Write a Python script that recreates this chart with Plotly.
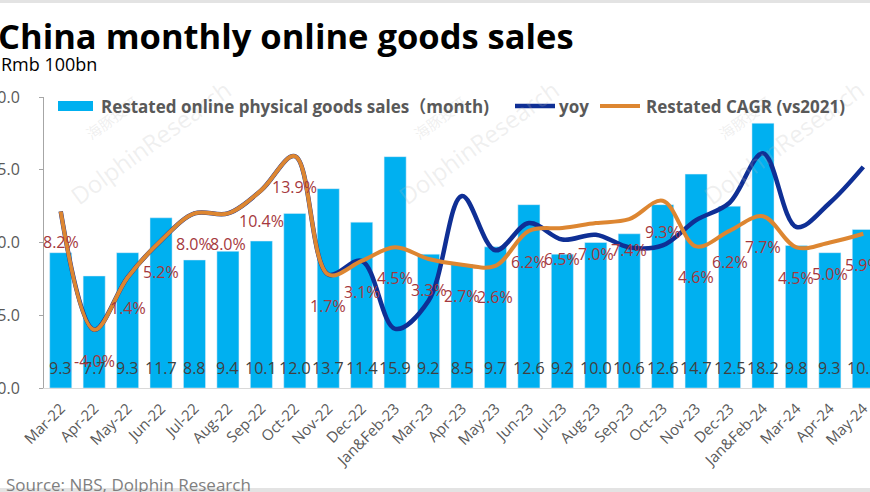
import plotly.graph_objects as go

categories = ["Mar-22", "Apr-22", "May-22", "Jun-22", "Jul-22", "Aug-22", "Sep-22", "Oct-22",
              "Nov-22", "Dec-22", "Jan&Feb-23", "Mar-23", "Apr-23", "May-23", "Jun-23", "Jul-23",
              "Aug-23", "Sep-23", "Oct-23", "Nov-23", "Dec-23", "Jan&Feb-24", "Mar-24", "Apr-24", "May-24"]

sales = [9.3, 7.7, 9.3, 11.7, 8.8, 9.4, 10.1, 12.0, 13.7, 11.4, 15.9, 9.2, 8.5, 9.7, 12.6, 9.2,
         10.0, 10.6, 12.6, 14.7, 12.5, 18.2, 9.8, 9.3, 10.9]

yoy = [8.2, -4.0, 1.4, 5.2, 8.0, 8.0, 10.4, 13.9, 1.7, 3.1, -3.9, -1.0, 9.8, 4.2, 7.0, 5.3,
       5.8, 4.5, 4.7, 7.3, 9.1, 14.2, 6.6, 9.1, 12.8]

cagr = [8.2, -4.0, 1.4, 5.2, 8.0, 8.0, 10.4, 13.9, 1.7, 3.1, 4.5, 3.3, 2.7, 2.6, 6.2, 6.5,
        7.0, 7.4, 9.3, 4.6, 6.2, 7.7, 4.5, 5.0, 5.9]

y_ticks = [0, 5, 10, 15, 20]

series_names = ["Restated online physical goods sales（month)", "yoy", "Restated CAGR (vs2021)"]

FONT = "Open Sans, Noto Sans CJK SC, sans-serif"
GREY = "#595959"
BAR_C = "#00B0F0"
YOY_C = "#0F2F95"
CAGR_C = "#DD8631"

fig = go.Figure()
fig.add_trace(go.Bar(x=categories, y=sales, name=series_names[0], marker_color=BAR_C, yaxis="y"))
fig.add_trace(go.Scatter(x=categories, y=yoy, name=series_names[1], mode="lines",
                         line=dict(color=YOY_C, width=4.5, shape="spline", smoothing=1.0),
                         yaxis="y2"))
fig.add_trace(go.Scatter(x=categories, y=cagr, name=series_names[2], mode="lines",
                         line=dict(color=CAGR_C, width=4, shape="spline", smoothing=1.0),
                         yaxis="y2"))

annotations = []
for c, v in zip(categories, sales):
    annotations.append(dict(x=c, y=0, xref="x", yref="y", yshift=20, text=f"{v:.1f}",
                            showarrow=False, font=dict(size=16, color="#404040", family=FONT)))
for c, v in zip(categories, cagr):
    annotations.append(dict(x=c, y=v, xref="x", yref="y2", yshift=-31, text=f"{v:.1f}%",
                            showarrow=False, font=dict(size=16, color="#A5383D", family=FONT)))

L, R, T, B = 44, 0, 97, 104
PW = 870 - L - R
PH = 492 - T - B


def px(x):
    return (x - L) / PW


def py(y):
    return (492 - B - y) / PH


# faint watermarks
for cx in (150, 478, 783):
    annotations.append(dict(xref="paper", yref="paper", x=px(cx), y=py(142), xanchor="center",
                            yanchor="middle", text="DolphinResearch", textangle=-36, showarrow=False,
                            font=dict(size=24, color="rgba(185,185,185,0.22)", family=FONT)))
    annotations.append(dict(xref="paper", yref="paper", x=px(cx - 38), y=py(118), xanchor="center",
                            yanchor="middle", text="海豚投研", textangle=-36, showarrow=False,
                            font=dict(size=15, color="rgba(185,185,185,0.22)", family=FONT)))

annotations.append(dict(xref="paper", yref="paper", x=px(-4), y=py(35), xanchor="left", yanchor="middle",
                        text="<b>China monthly online goods sales</b>", showarrow=False,
                        font=dict(size=34.5, color="#000000", family=FONT)))
annotations.append(dict(xref="paper", yref="paper", x=px(-1), y=py(64), xanchor="left", yanchor="middle",
                        text="Rmb 100bn", showarrow=False,
                        font=dict(size=18, color="#000000", family=FONT)))
annotations.append(dict(xref="paper", yref="paper", x=px(4), y=py(484), xanchor="left", yanchor="middle",
                        text="Source: NBS, Dolphin Research", showarrow=False,
                        font=dict(size=17, color="#7F7F7F", family=FONT)))

# legend (drawn manually to match the wide swatches)
LEG_Y = 106
leg_font = dict(size=17, color=GREY, family=FONT)
annotations.append(dict(xref="paper", yref="paper", x=px(99), y=py(LEG_Y), xanchor="left", yanchor="middle",
                        text=f"<b>{series_names[0]}</b>", showarrow=False, font=leg_font))
annotations.append(dict(xref="paper", yref="paper", x=px(557), y=py(LEG_Y), xanchor="left", yanchor="middle",
                        text=f"<b>{series_names[1]}</b>", showarrow=False, font=leg_font))
annotations.append(dict(xref="paper", yref="paper", x=px(644), y=py(LEG_Y), xanchor="left", yanchor="middle",
                        text=f"<b>{series_names[2]}</b>", showarrow=False, font=leg_font))

shapes = [
    dict(type="rect", xref="paper", yref="paper", x0=px(0), x1=px(870), y0=py(3), y1=py(0),
         fillcolor="#E3E3E3", line_width=0, layer="below"),
    dict(type="rect", xref="paper", yref="paper", x0=px(0), x1=px(870), y0=py(492), y1=py(488),
         fillcolor="#E3E3E3", line_width=0, layer="below"),
    dict(type="rect", xref="paper", yref="paper", x0=px(58), x1=px(93), y0=py(LEG_Y + 5), y1=py(LEG_Y - 5),
         fillcolor=BAR_C, line_width=0),
    dict(type="line", xref="paper", yref="paper", x0=px(515), x1=px(555), y0=py(LEG_Y), y1=py(LEG_Y),
         line=dict(color=YOY_C, width=4.5)),
    dict(type="line", xref="paper", yref="paper", x0=px(600), x1=px(640), y0=py(LEG_Y), y1=py(LEG_Y),
         line=dict(color=CAGR_C, width=4)),
]

fig.update_layout(
    width=870, height=492, autosize=False,
    margin=dict(l=L, r=R, t=T, b=B, pad=0),
    paper_bgcolor="white", plot_bgcolor="white",
    font=dict(family=FONT, color=GREY),
    bargap=0.34,
    showlegend=False,
    xaxis=dict(type="category", range=[-0.5, 24.2], tickangle=-45, automargin=False,
               tickfont=dict(size=15, color=GREY), showline=True, linecolor="#D9D9D9",
               linewidth=1, ticks="", showgrid=False, zeroline=False, ticklabelstandoff=5),
    yaxis=dict(range=[0, 20], tickvals=y_ticks, tickformat=".1f", showgrid=False, zeroline=False,
               automargin=False,
               showline=True, linecolor="#A6A6A6", linewidth=1, ticks="outside", ticklen=4,
               tickcolor="#A6A6A6", tickfont=dict(size=16, color=GREY), ticklabelstandoff=16),
    yaxis2=dict(range=[-10, 20], overlaying="y", side="right", visible=False, showgrid=False),
    annotations=annotations,
    shapes=shapes,
)

fig.write_html("out.html", config={"displayModeBar": False},
               post_script="document.body.style.margin='0';")
